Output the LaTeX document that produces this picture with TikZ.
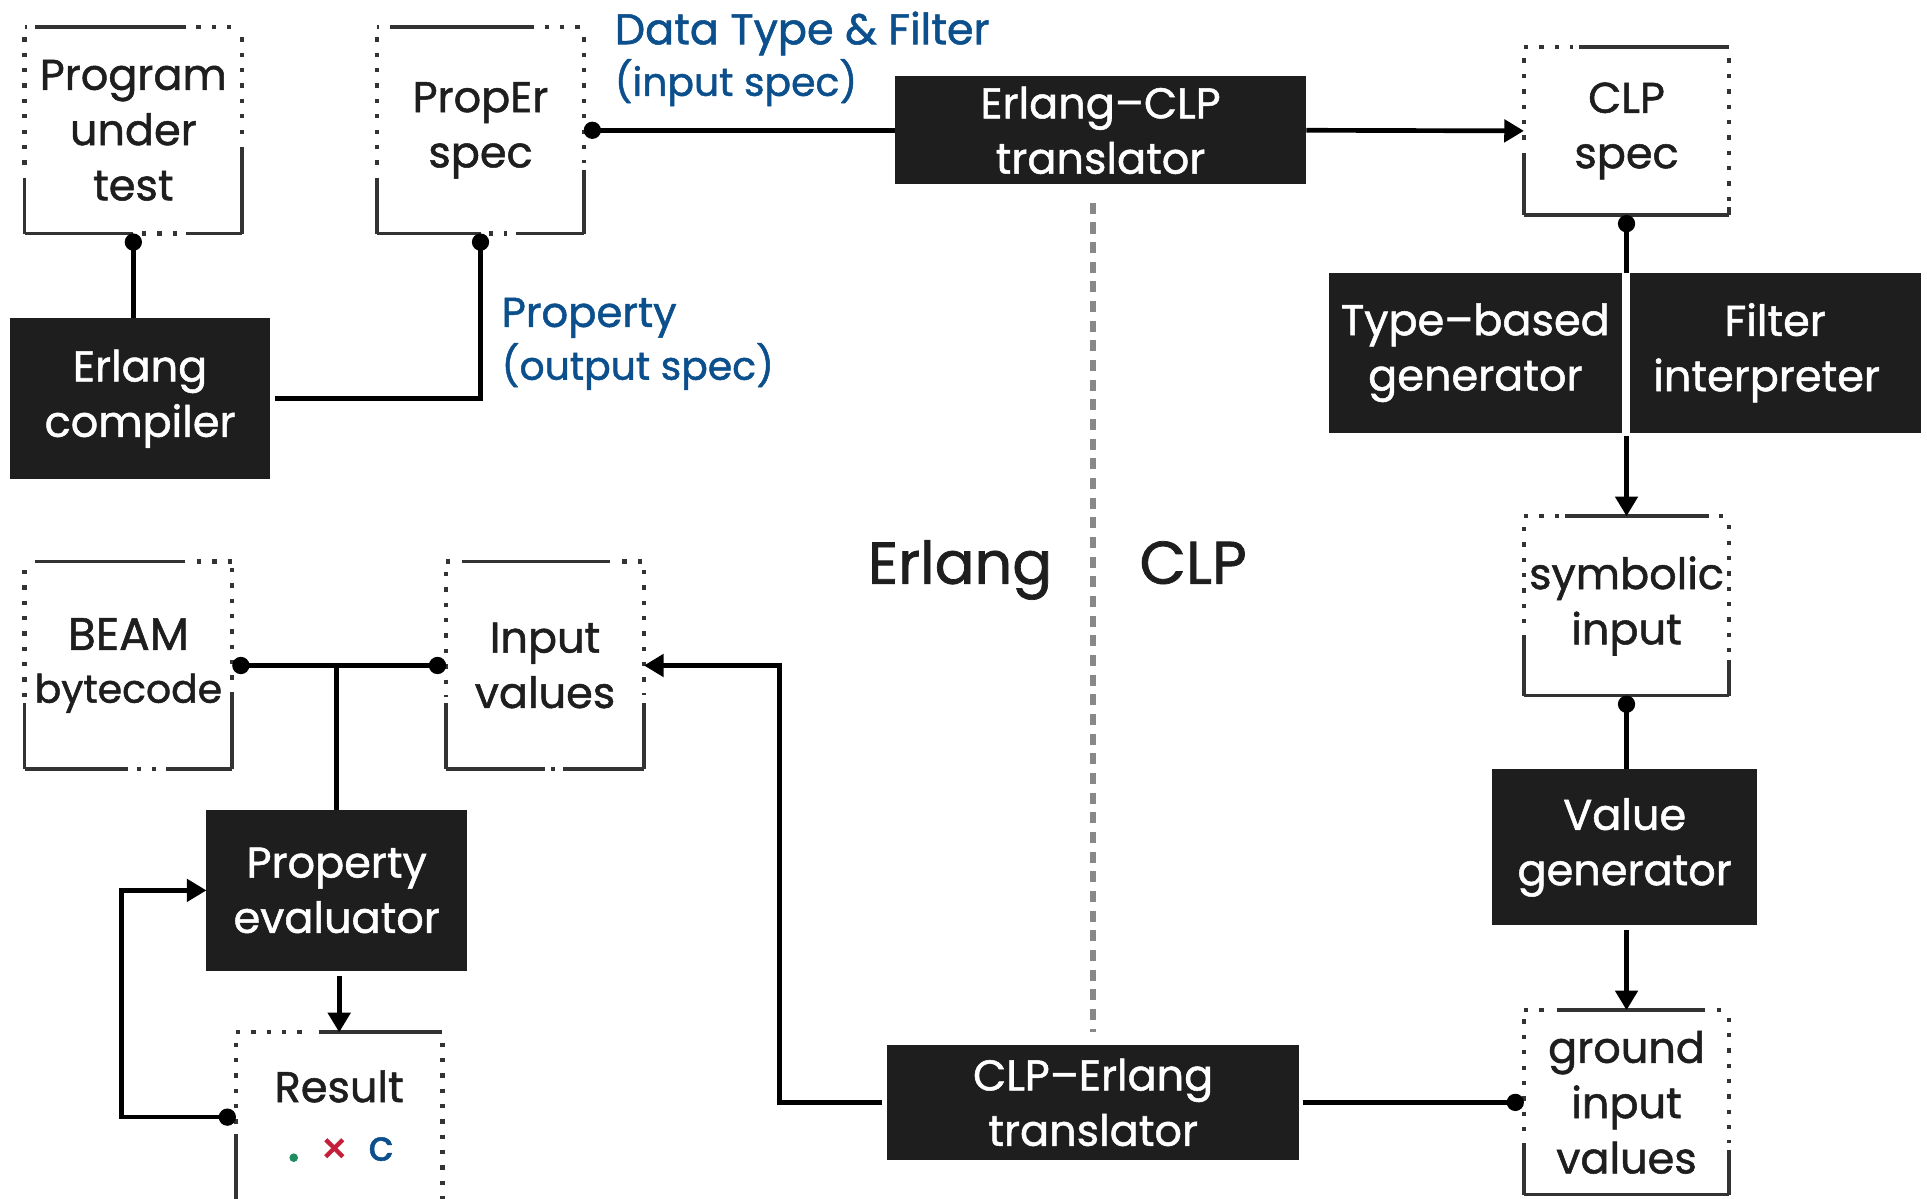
\documentclass[tikz,border=0pt]{standalone}
\usepackage{fontspec}
\setmainfont{Poppins}[RawFeature={embolden=1.2}]
\usetikzlibrary{arrows.meta,calc}
\definecolor{ink}{HTML}{1E1E1E}
\definecolor{brd}{HTML}{333333}
\definecolor{lblue}{HTML}{0B4F8C}
\definecolor{dgray}{HTML}{888888}
\definecolor{rgreen}{HTML}{1E8C5E}
\definecolor{rred}{HTML}{C41E3A}
\newcommand\bseg[6]{\draw[#6] ($(#1.#2)!#4!(#1.#3)$) -- ($(#1.#2)!#5!(#1.#3)$);}
\newcommand\topseg[4]{\bseg{#1}{north west}{north east}{#2}{#3}{#4}}
\newcommand\lftseg[4]{\bseg{#1}{north west}{south west}{#2}{#3}{#4}}
\newcommand\botseg[4]{\bseg{#1}{south west}{south east}{#2}{#3}{#4}}
\newcommand\rgtseg[4]{\bseg{#1}{north east}{south east}{#2}{#3}{#4}}
\begin{document}
\begin{tikzpicture}[x=1pt,y=-1pt,
  txt/.style={font=\fontsize{35}{45}\selectfont, align=center, text=ink},
  blue/.style={text=lblue, anchor=base west, inner sep=0pt},
  dbox/.style={txt, anchor=north west, inner sep=0pt, outer sep=0pt},
  bbox/.style={txt, anchor=north west, inner sep=0pt, outer sep=0pt, fill=ink, text=white},
  sb/.style={draw=brd, line width=3pt},
  db/.style={draw=brd, line width=3.5pt, dash pattern=on 3.5pt off 9pt},
  conn/.style={draw=black, line width=3.8pt},
  ds/.style={arrows={Circle[length=14pt]-}},
  de/.style={arrows={-Circle[length=14pt]}},
  dd/.style={arrows={Circle[length=14pt]-Circle[length=14pt]}},
  ta/.style={arrows={-Triangle[length=16pt,width=18pt]}},
  dsta/.style={arrows={Circle[length=14pt]-Triangle[length=16pt,width=18pt]}}
]
\fill[white] (0,0) rectangle (1568,975);
\useasboundingbox (0,0) rectangle (1568,975);

% dotted boxes
\node[dbox, minimum width=177pt, minimum height=168pt] (prog) at (20,22) {Program\\under\\test};
\node[dbox, minimum width=168pt, minimum height=168pt] (proper) at (307,22) {PropEr\\spec};
\node[dbox, minimum width=167pt, minimum height=137pt] (clp) at (1240,38) {CLP\\spec};
\node[dbox, minimum width=167pt, minimum height=146pt] (sym) at (1240,420) {symbolic\\input};
\node[dbox, minimum width=167pt, minimum height=150pt] (gnd) at (1240,822) {ground\\input\\values};
\node[dbox, minimum width=169pt, minimum height=169pt, font=\fontsize{32}{43}\selectfont] (beam) at (20,457) {{\fontsize{37}{43}\selectfont BEAM}\\bytecode};
\node[dbox, minimum width=161pt, minimum height=169pt] (inp) at (363,457) {Input\\values};
\node[dbox, minimum width=168pt, minimum height=138pt] (res) at (192,840) {};
\node[txt] (reslbl) at (276,884) {Result};
\fill[rgreen] (239,942) circle (3.5);
\node[txt, text=rred, font=\fontsize{36}{40}\selectfont] (resx) at (272,937) {×};
\node[txt, text=lblue, font=\fontsize{34}{40}\selectfont] (resc) at (310,935) {c};

% black boxes
\node[bbox, minimum width=212pt, minimum height=131pt] (ec) at (8,259) {Erlang\\compiler};
\node[bbox, minimum width=335pt, minimum height=88pt] (e2c) at (728,62) {Erlang--CLP\\translator};
\node[bbox, minimum width=239pt, minimum height=130pt] (tg) at (1081,222) {Type--based\\generator};
\node[bbox, minimum width=237pt, minimum height=130pt] (fi) at (1326,222) {Filter\\interpreter\hspace*{14pt}};
\node[bbox, minimum width=216pt, minimum height=127pt] (vg) at (1214,626) {Value\\generator};
\node[bbox, minimum width=212pt, minimum height=131pt] (pe) at (168,659) {Property\\evaluator};
\node[bbox, minimum width=335pt, minimum height=94pt] (c2e) at (722,850) {CLP--Erlang\\translator};

% labels
\node[blue, font=\fontsize{35}{42}\selectfont] (dtf) at (500,36) {Data Type \& Filter};
\node[blue, font=\fontsize{32}{42}\selectfont] (ins) at (500,78) {(input spec)};
\node[blue, font=\fontsize{34}{42}\selectfont] (prp) at (408,266) {Property};
\node[blue, font=\fontsize{32}{42}\selectfont] (outs) at (408,309) {(output spec)};
\node[txt, font=\fontsize{48}{56}\selectfont, anchor=base west, inner sep=0pt] (erl) at (706,475) {Erlang};
\node[txt, font=\fontsize{49}{56}\selectfont, anchor=base west, inner sep=0pt] (clpl) at (927,475) {CLP};

% borders
\topseg{prog}{0}{0.01}{db}\topseg{prog}{0.05}{0.74}{sb}\topseg{prog}{0.79}{1}{db}
\lftseg{prog}{0.05}{0.7}{db}\lftseg{prog}{0.73}{1}{sb}
\botseg{prog}{0}{0.5}{sb}\botseg{prog}{0.54}{0.7}{db}\botseg{prog}{0.74}{1}{sb}
\rgtseg{prog}{0.05}{0.56}{db}\rgtseg{prog}{0.58}{1}{sb}

\topseg{proper}{0}{0.01}{db}\topseg{proper}{0.06}{0.76}{sb}\topseg{proper}{0.81}{1}{db}
\lftseg{proper}{0.05}{0.7}{db}\lftseg{proper}{0.73}{1}{sb}
\botseg{proper}{0}{0.5}{sb}\botseg{proper}{0.54}{0.63}{db}\botseg{proper}{0.67}{1}{sb}
\rgtseg{proper}{0.05}{0.66}{db}\rgtseg{proper}{0.69}{1}{sb}

\topseg{clp}{0}{0.24}{db}\topseg{clp}{0.27}{1}{sb}
\lftseg{clp}{0.07}{0.6}{db}\lftseg{clp}{0.63}{1}{sb}
\botseg{clp}{0}{1}{sb}
\rgtseg{clp}{0.07}{0.93}{db}\rgtseg{clp}{0.95}{1}{sb}

\topseg{sym}{0}{0.17}{db}\topseg{sym}{0.2}{0.9}{sb}\topseg{sym}{0.95}{1}{db}
\lftseg{sym}{0.06}{0.62}{db}\lftseg{sym}{0.66}{1}{sb}
\botseg{sym}{0}{1}{sb}
\rgtseg{sym}{0.05}{0.76}{db}\rgtseg{sym}{0.8}{1}{sb}

\topseg{gnd}{0}{0.13}{db}\topseg{gnd}{0.16}{0.88}{sb}\topseg{gnd}{0.94}{1}{db}
\lftseg{gnd}{0.05}{0.68}{db}\lftseg{gnd}{0.72}{1}{sb}
\botseg{gnd}{0}{1}{sb}
\rgtseg{gnd}{0.04}{0.72}{db}\rgtseg{gnd}{0.76}{1}{sb}

\topseg{beam}{0.05}{0.77}{sb}\topseg{beam}{0.83}{1}{db}
\lftseg{beam}{0.04}{0.65}{db}\lftseg{beam}{0.68}{1}{sb}
\botseg{beam}{0}{0.5}{sb}\botseg{beam}{0.54}{0.64}{db}\botseg{beam}{0.68}{1}{sb}
\rgtseg{beam}{0.03}{0.6}{db}\rgtseg{beam}{0.63}{1}{sb}

\topseg{inp}{0}{0.02}{db}\topseg{inp}{0.08}{0.83}{sb}\topseg{inp}{0.89}{1}{db}
\lftseg{inp}{0.05}{0.65}{db}\lftseg{inp}{0.68}{1}{sb}
\botseg{inp}{0}{0.5}{sb}\botseg{inp}{0.53}{0.55}{db}\botseg{inp}{0.59}{1}{sb}
\rgtseg{inp}{0.04}{0.64}{db}\rgtseg{inp}{0.68}{1}{sb}

\topseg{res}{0}{0.37}{db}\topseg{res}{0.4}{1}{sb}
\lftseg{res}{0.06}{0.55}{db}\lftseg{res}{0.6}{1}{sb}
\rgtseg{res}{0.06}{1}{db}

% divider
\draw[dgray, line width=4.5pt, dash pattern=on 9pt off 7pt, shorten <=15pt, shorten >=10pt]
  (c2e.north |- e2c.south) -- (c2e.north);

% connectors
\draw[conn, ds] (prog.south) -- (prog.south |- ec.north);
\draw[conn, ds, shorten >=4pt] (proper.south) |- (ec.east);
\draw[conn, ds] (proper.east) -- (e2c.west);
\draw[conn, ta] (e2c.east) -- (clp.west);
\draw[conn, ds] (clp.south) -- (clp.south |- tg.north);
\draw[conn, ta, shorten <=3pt] (sym.north |- tg.south) -- (sym.north);
\draw[conn, ds] (sym.south) -- (sym.south |- vg.north);
\draw[conn, ta, shorten <=4pt] (gnd.north |- vg.south) -- (gnd.north);
\draw[conn, de, shorten <=3pt] (c2e.east) -- (gnd.west);
\draw[conn, ta, shorten <=4pt] (c2e.west) -- ++(-88,0) |- (inp.east);
\draw[conn, dd] (beam.east) -- (inp.west);
\draw[conn] (pe.north |- beam.east) -- (pe.north);
\draw[conn, ta, shorten <=4pt] (res.north |- pe.south) -- (res.north);
\draw[conn, dsta] (res.west) -- ++(-93,0) |- (pe.west);
\end{tikzpicture}
\end{document}
